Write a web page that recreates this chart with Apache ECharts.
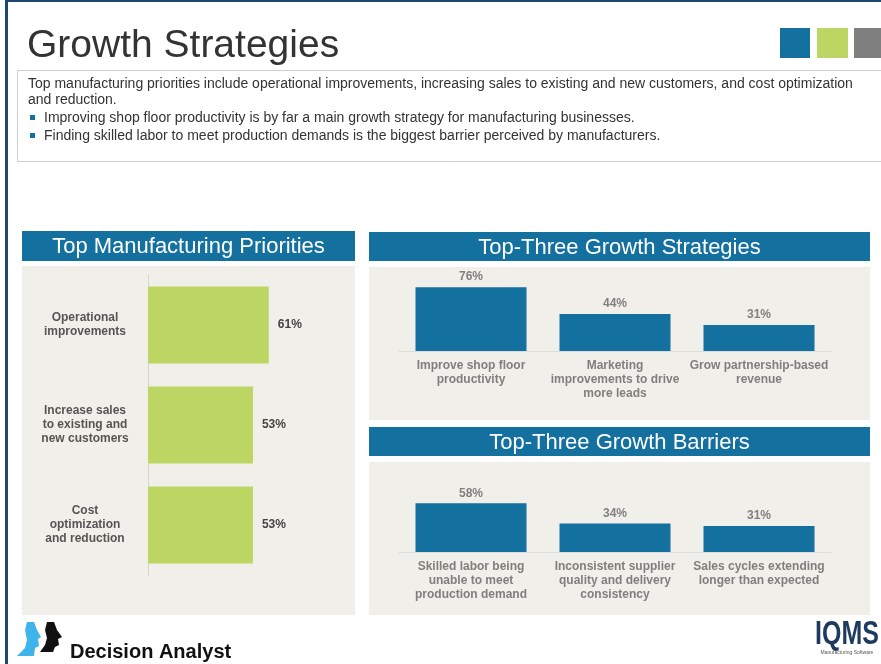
<!DOCTYPE html>
<html>
<head>
<meta charset="utf-8">
<script src="https://cdn.jsdelivr.net/npm/echarts@6/dist/echarts.min.js"></script>
<style>
  html, body { margin: 0; padding: 0; background: #fff; }
  #main { width: 881px; height: 664px; }
</style>
</head>
<body>
<div id="main"></div>
<script>
var priorityNames = ['Operational\nimprovements', 'Increase sales\nto existing and\nnew customers', 'Cost\noptimization\nand reduction'];
var priorityValues = [61, 53, 53];

var strategyNames = ['Improve shop floor\nproductivity', 'Marketing\nimprovements to drive\nmore leads', 'Grow partnership-based\nrevenue'];
var strategyValues = [76, 44, 31];

var barrierNames = ['Skilled labor being\nunable to meet\nproduction demand', 'Inconsistent supplier\nquality and delivery\nconsistency', 'Sales cycles extending\nlonger than expected'];
var barrierValues = [58, 34, 31];

var introLines = [
  'Top manufacturing priorities include operational improvements, increasing sales to existing and new customers, and cost optimization',
  'and reduction.'
];
var bullets = [
  'Improving shop floor productivity is by far a main growth strategy for manufacturing businesses.',
  'Finding skilled labor to meet production demands is the biggest barrier perceived by manufacturers.'
];

var FONT = '"Liberation Sans", Arial, sans-serif';
var BLUE = '#13709f';
var GREEN = '#bdd562';
var PANEL = '#f1efe9';

var myChart = echarts.init(document.getElementById('main'));

// header bar with centred white title
function header(x, y, w, h, text) {
  return [
    { type: 'rect', shape: { x: x, y: y, width: w, height: h }, style: { fill: BLUE } },
    { type: 'text', x: x + w / 2, y: y + h / 2 + 1,
      style: { text: text, fill: '#fff', font: '22px ' + FONT, align: 'center', verticalAlign: 'middle' } }
  ];
}

var graphics = [
  // page frame
  { type: 'rect', shape: { x: 5, y: 0, width: 3, height: 664 }, style: { fill: '#1d4673' } },
  { type: 'rect', shape: { x: 5, y: 0, width: 876, height: 2 }, style: { fill: '#1d4673' } },
  // title
  { type: 'text', x: 27, y: 46, style: { text: 'Growth Strategies', fill: '#333', font: '39px ' + FONT, verticalAlign: 'middle' } },
  { type: 'rect', shape: { x: 780, y: 28, width: 30, height: 30 }, style: { fill: BLUE } },
  { type: 'rect', shape: { x: 817, y: 28, width: 31, height: 30 }, style: { fill: GREEN } },
  { type: 'rect', shape: { x: 854, y: 28, width: 31, height: 30 }, style: { fill: '#7f7f7f' } },
  // intro box
  { type: 'rect', shape: { x: 17.5, y: 70.5, width: 870, height: 91 }, style: { fill: '#fff', stroke: '#cfcfcf', lineWidth: 1 } },
  // panels
  { type: 'rect', shape: { x: 22, y: 266, width: 333, height: 349 }, style: { fill: PANEL } },
  { type: 'rect', shape: { x: 369, y: 267, width: 501, height: 153 }, style: { fill: PANEL } },
  { type: 'rect', shape: { x: 369, y: 462, width: 501, height: 153 }, style: { fill: PANEL } }
];

introLines.forEach(function (t, i) {
  graphics.push({ type: 'text', x: 28, y: 84 + i * 16,
    style: { text: t, fill: '#333', font: '14px ' + FONT, verticalAlign: 'middle' } });
});
bullets.forEach(function (t, i) {
  var y = 118 + i * 18;
  graphics.push({ type: 'rect', shape: { x: 30, y: y - 3, width: 5, height: 5 }, style: { fill: BLUE } });
  graphics.push({ type: 'text', x: 44, y: y,
    style: { text: t, fill: '#333', font: '14px ' + FONT, verticalAlign: 'middle' } });
});

graphics = graphics
  .concat(header(22, 231, 333, 30, 'Top Manufacturing Priorities'))
  .concat(header(369, 232, 501, 29, 'Top-Three Growth Strategies'))
  .concat(header(369, 427, 501, 29, 'Top-Three Growth Barriers'));

// footer logos
graphics.push(
  { type: 'polygon', shape: { points: [[27,622],[34,622],[37,630],[41,637],[38,639],[39,646],[35,648],[34,656],[17,656],[25,648],[27,640],[25,630]] },
    style: { fill: '#3fb4ea' } },
  { type: 'polygon', shape: { points: [[47,622],[54,622],[57,630],[62,637],[58,639],[59,645],[55,647],[53,652],[40,652],[45,645],[47,638],[45,630]] },
    style: { fill: '#111' } },
  { type: 'text', x: 70, y: 652, style: { text: 'Decision Analyst', fill: '#111', font: 'bold 20px ' + FONT, verticalAlign: 'middle' } },
  { type: 'text', x: 847, y: 635, scaleY: 1.3,
    style: { text: 'IQMS', fill: '#1f3a5f', font: 'bold 25px ' + FONT, align: 'center', verticalAlign: 'middle' } },
  { type: 'text', x: 847, y: 653, style: { text: 'Manufacturing Software', fill: '#555', font: '5px ' + FONT, align: 'center', verticalAlign: 'middle' } }
);

var catLabel = { fontFamily: FONT, fontWeight: 'bold', fontSize: 12, lineHeight: 14 };

var option = {
  animation: false,
  graphic: { elements: graphics },
  grid: [
    { left: 148, top: 275, width: 198, height: 300 },
    { left: 399, top: 267, width: 432, height: 84 },
    { left: 399, top: 468, width: 432, height: 84 }
  ],
  xAxis: [
    { gridIndex: 0, type: 'value', min: 0, max: 100, show: false },
    { gridIndex: 1, type: 'category', data: strategyNames,
      axisLine: { lineStyle: { color: '#dcdcdc' } }, axisTick: { show: false },
      axisLabel: Object.assign({ color: '#7f7f7f', margin: 8, interval: 0 }, catLabel) },
    { gridIndex: 2, type: 'category', data: barrierNames,
      axisLine: { lineStyle: { color: '#dcdcdc' } }, axisTick: { show: false },
      axisLabel: Object.assign({ color: '#7f7f7f', margin: 8, interval: 0 }, catLabel) }
  ],
  yAxis: [
    { gridIndex: 0, type: 'category', data: priorityNames, inverse: true,
      axisLine: { lineStyle: { color: '#d4d4d4' } }, axisTick: { show: false },
      axisLabel: Object.assign({ color: '#555', margin: 63, align: 'center', interval: 0 }, catLabel) },
    { gridIndex: 1, type: 'value', min: 0, max: 100, show: false },
    { gridIndex: 2, type: 'value', min: 0, max: 100, show: false }
  ],
  series: [
    { type: 'bar', xAxisIndex: 0, yAxisIndex: 0, data: priorityValues, barWidth: 77,
      itemStyle: { color: GREEN },
      label: { show: true, position: 'right', distance: 9, formatter: '{c}%',
        fontFamily: FONT, fontWeight: 'bold', fontSize: 12, color: '#444' } },
    { type: 'bar', xAxisIndex: 1, yAxisIndex: 1, data: strategyValues, barWidth: 111,
      itemStyle: { color: BLUE },
      label: { show: true, position: 'top', distance: 4, formatter: '{c}%',
        fontFamily: FONT, fontWeight: 'bold', fontSize: 12, color: '#808080' } },
    { type: 'bar', xAxisIndex: 2, yAxisIndex: 2, data: barrierValues, barWidth: 111,
      itemStyle: { color: BLUE },
      label: { show: true, position: 'top', distance: 4, formatter: '{c}%',
        fontFamily: FONT, fontWeight: 'bold', fontSize: 12, color: '#808080' } }
  ]
};
myChart.setOption(option);
</script>
</body>
</html>
